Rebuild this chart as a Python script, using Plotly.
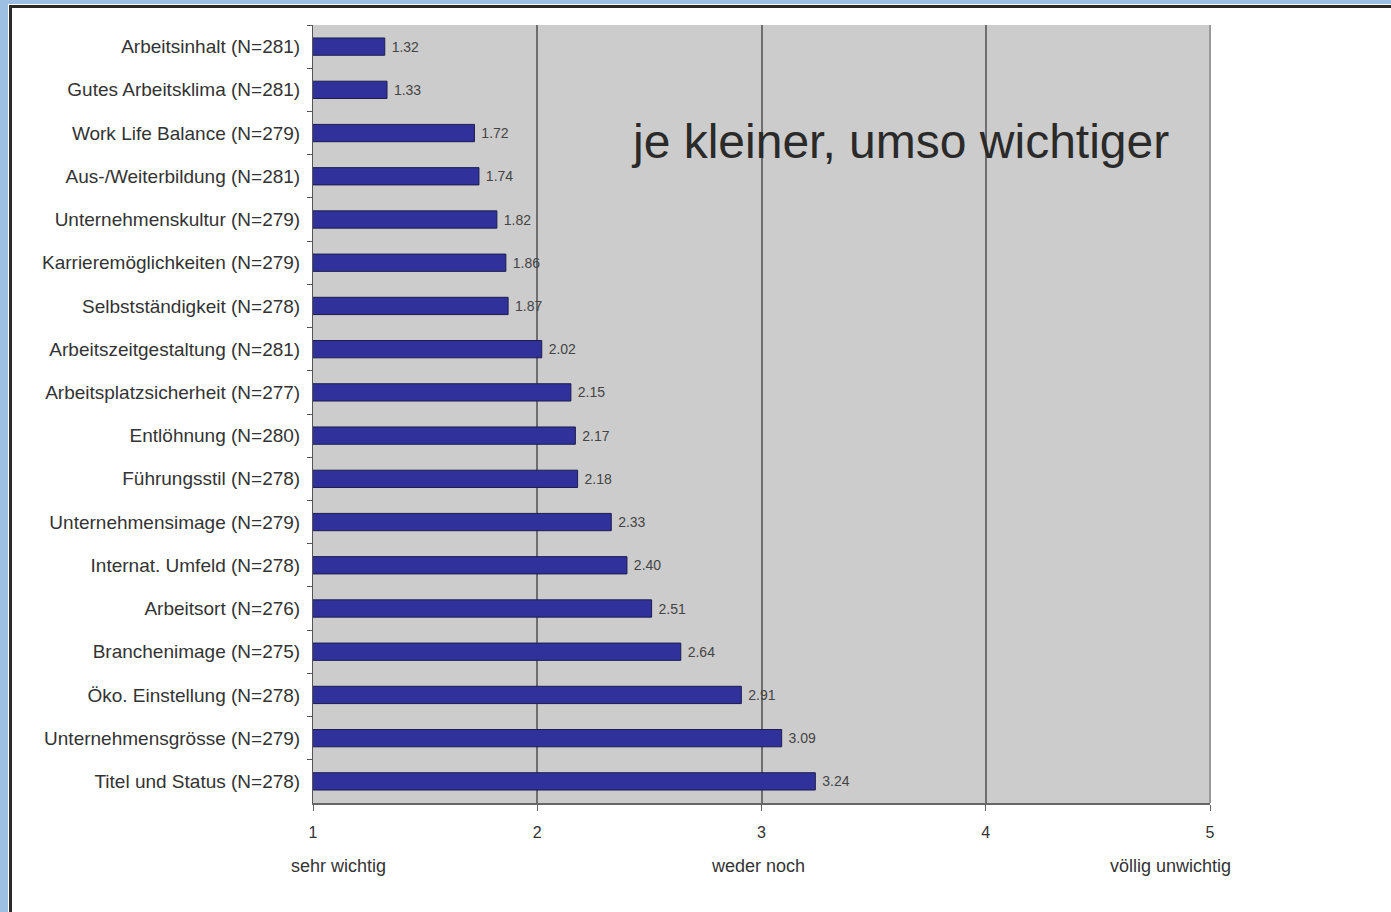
import plotly.graph_objects as go

# Survey: importance of job attributes (1 = sehr wichtig ... 5 = völlig unwichtig)
categories = [
    "Arbeitsinhalt (N=281)",
    "Gutes Arbeitsklima (N=281)",
    "Work Life Balance (N=279)",
    "Aus-/Weiterbildung (N=281)",
    "Unternehmenskultur (N=279)",
    "Karrieremöglichkeiten (N=279)",
    "Selbstständigkeit (N=278)",
    "Arbeitszeitgestaltung (N=281)",
    "Arbeitsplatzsicherheit (N=277)",
    "Entlöhnung (N=280)",
    "Führungsstil (N=278)",
    "Unternehmensimage (N=279)",
    "Internat. Umfeld (N=278)",
    "Arbeitsort (N=276)",
    "Branchenimage (N=275)",
    "Öko. Einstellung (N=278)",
    "Unternehmensgrösse (N=279)",
    "Titel und Status (N=278)",
]
values = [1.32, 1.33, 1.72, 1.74, 1.82, 1.86, 1.87, 2.02, 2.15, 2.17,
          2.18, 2.33, 2.40, 2.51, 2.64, 2.91, 3.09, 3.24]

scale_ticks = [1, 2, 3, 4, 5]
scale_labels = ["sehr wichtig", "weder noch", "völlig unwichtig"]
note_text = "je kleiner, umso wichtiger"

W, H = 1391, 912
L, R, T, B = 313, 181, 25, 109
PW, PH = W - L - R, H - T - B

FONT = "Liberation Sans, Arial, sans-serif"
TXT = "#333333"


def px_x(p):
    return (p - L) / PW


def px_y(p):
    return (H - B - p) / PH


fig = go.Figure()
fig.add_trace(go.Bar(
    x=values,
    y=categories,
    orientation="h",
    width=0.4,
    marker=dict(color="#30319a", line=dict(color="#1c1c50", width=1)),
    text=values,
    texttemplate=" %{x:.2f}",
    textposition="outside",
    textfont=dict(family=FONT, size=14, color="#444444"),
    hoverinfo="skip",
))

# Descriptive labels under the scale ticks
for xpix, lab in zip([338, 758, 1170], scale_labels):
    fig.add_annotation(x=px_x(xpix), y=px_y(866), xref="paper", yref="paper",
                       text=lab, showarrow=False, xanchor="center", yanchor="middle",
                       font=dict(family=FONT, size=18, color=TXT))

fig.add_annotation(x=px_x(900), y=px_y(141), xref="paper", yref="paper",
                   text=note_text, showarrow=False, xanchor="center", yanchor="middle",
                   font=dict(family=FONT, size=48, color="#2a2a2a"))

# Slide frame: light blue margin strips and dark border lines
shapes = [
    dict(type="rect", xref="paper", yref="paper", x0=px_x(0), x1=px_x(8),
         y0=px_y(H), y1=px_y(0), fillcolor="#9dbfe2", line_width=0, layer="below"),
    dict(type="rect", xref="paper", yref="paper", x0=px_x(0), x1=px_x(W),
         y0=px_y(4), y1=px_y(0), fillcolor="#9dbfe2", line_width=0, layer="below"),
    dict(type="line", xref="paper", yref="paper", x0=px_x(9), x1=px_x(W),
         y0=px_y(6.5), y1=px_y(6.5), line=dict(color="#2a2a2a", width=3)),
    dict(type="line", xref="paper", yref="paper", x0=px_x(10.5), x1=px_x(10.5),
         y0=px_y(5), y1=px_y(H), line=dict(color="#2a2a2a", width=3)),
    dict(type="line", xref="paper", yref="paper", x0=1, x1=1, y0=0, y1=1,
         line=dict(color="#999999", width=2)),
]

fig.update_layout(
    width=W, height=H,
    margin=dict(l=L, r=R, t=T, b=B, pad=0),
    paper_bgcolor="white",
    plot_bgcolor="#cccccc",
    showlegend=False,
    font=dict(family=FONT, color=TXT),
    shapes=shapes,
    xaxis=dict(
        range=[1, 5], tickvals=scale_ticks, ticktext=[str(t) for t in scale_ticks],
        showgrid=True, gridcolor="#6e6e6e", gridwidth=2,
        showline=True, linecolor="#666666", linewidth=2,
        ticks="outside", ticklen=6, tickcolor="#666666", tickwidth=1,
        ticklabelstandoff=8,
        tickfont=dict(family=FONT, size=16, color=TXT),
        zeroline=False, fixedrange=True,
    ),
    yaxis=dict(
        autorange="reversed", categoryorder="array", categoryarray=categories,
        showline=True, linecolor="#555555", linewidth=1,
        ticks="outside", ticklen=5, tickcolor="#555555", tickson="boundaries",
        ticklabelstandoff=8,
        tickfont=dict(family=FONT, size=19, color=TXT),
        showgrid=False, fixedrange=True,
    ),
)

fig.write_html("out.html")
